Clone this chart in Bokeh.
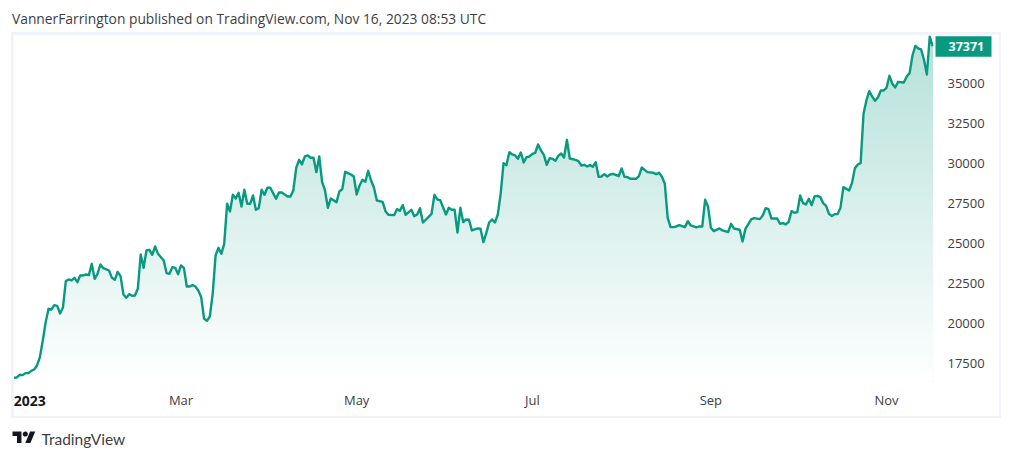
from bokeh.plotting import figure
from bokeh.embed import file_html
from bokeh.resources import INLINE
from bokeh.layouts import column
from bokeh.models import FixedTicker, Label, LinearAxis, Range1d
import numpy as np

days = [0,1,2,3,4,5,6,7,8,9,10,11,12,13,14,15,16,17,18,19,20,21,22,23,24,25,26,27,28,29,30,31,33,34,35,36,37,38,39,40,41,42,43,44,45,46,47,48,49,50,52,53,54,55,56,57,58,59,60,61,62,63,64,65,66,67,68,69,70,71,72,73,
74,75,76,77,78,79,80,81,82,83,84,85,86,87,88,89,91,92,93,95,96,97,98,99,100,101,102,103,104,105,106,107,108,109,110,112,113,
114,115,117,118,119,120,121,122,123,124,125,126,128,129,130,132,133,134,135,136,138,139,140,141,142,145,146,147,148,150,151,152,153,154,155,156,157,158,159,161,162,163,164,165,166,167,168,169,170,171,172,173,174,175,176,177,178,179,180,181,182,183,184,185,186,187,188,189,190,191,192,193,195,196,197,198,199,200,201,202,203,204,205,206,207,208,210,211,212,213,214,216,217,218,219,220,222,223,224,225,226,227,228,
229,230,231,233,234,235,237,238,239,240,241,242,243,245,246,248,249,250,252,253,254,256,257,259,260,261,262,263,265,266,267,268,269,270,271,272,273,274,275,276,277,278,279,280,281,282,283,284,285,286,287,288,289,290,291,292,293,294,295,296,297,298,299,300,301,302,303,304,305,306,307,309,310,311,312,313,314,315,316,317,318,319]
prices = [16637,16658,16825,16804,16929,16929,17073,17158,17408,17929,18970,20116,20949,20907,21178,21136,20657,21032,22678,22782,22720,22886,22615,23032,23032,23094,23053,23761,22823,23136,23719,23490,23344,22886,22761,23261,22990,21848,21636,21865,21761,21782,22199,24344,23511,24594,24636,24323,24844,24386,23969,23178,23136,23553,23511,23115,23657,23511,22344,22344,22428,22344,22094,21678,20345,20199,20470,21886,24282,24761,24386,25011,
27513,27034,28075,27846,28200,27346,28387,27513,27513,28033,27138,27242,28387,28075,28512,28512,27825,28221,28221,27971,27971,28346,29762,30262,29971,30471,30533,30387,30387,29491,30471,28867,28346,27263,27846,27617,28300,
28428,29511,29345,29220,28095,28657,29011,28886,29574,28970,28512,27720,27637,27053,26824,26803,27178,27074,27428,26824,27137,26741,26845,27241,26345,26887,28074,27782,27741,26845,27262,27137,27137,25720,27262,26366,26533,26512,25845,25970,25949,25116,25678,26345,26533,26345,26845,28137,30053,29928,30740,30595,30532,30324,30719,30095,30428,30470,30636,30699,31219,30845,30574,29949,30365,30324,30199,30511,30657,30407,31511,30345,30261,30178,29907,29949,29845,29928,29824,30115,29199,29220,29365,29220,29345,29386,29240,29720,29199,29178,29074,29074,29240,29782,29636,29490,29449,29365,29449,29199,28761,26637,26053,
26054,26096,26179,26054,26429,26158,26033,26096,26096,27762,27346,26013,25804,25971,25846,25742,26263,25971,25888,25159,25950,26534,26617,26554,26783,27242,27179,26596,26596,26263,26304,26221,26388,27054,26950,26992,28033,27554,27471,27825,27429,27971,28012,27929,27554,27388,26888,26742,26867,26867,27262,28554,28450,28346,28804,29741,29970,30054,33137,33970,34553,34220,33949,34157,34595,34595,34761,35511,35011,34782,35136,35095,35470,35678,36782,37386,37219,37157,36511,35595,37969,37371]

price_ticks = [17500,20000,22500,25000,27500,30000,32500,35000]
time_ticks = [58,119,180,242,303]
time_labels = ["Mar","May","Jul","Sep","Nov"]
year_tick = 5.5
year_label = "2023"
last_price = 37371
header = "VannerFarrington published on TradingView.com, Nov 16, 2023 08:53 UTC"
brand = "TradingView"

GREEN = "#089981"
TEXT = "#3c4043"
FONT = "Open Sans"
BASE = 16406
XMIN, XMAX, YMAX = -0.17, 319.3, 38031

def strip(fig):
    fig.grid.visible = False
    fig.outline_line_color = None

def banner(height, margin=(0, 0, 0, 0)):
    f = figure(width=1004, height=height, output_backend="svg", toolbar_location=None,
               x_range=Range1d(0, 1004), y_range=Range1d(height, 0),
               x_axis_location=None, y_axis_location=None,
               min_border_left=0, min_border_right=0, min_border_top=0, min_border_bottom=0,
               margin=margin)
    strip(f)
    return f

# header
top = banner(32)
top.add_layout(Label(x=11.5, y=18, text=header, text_color=TEXT, text_font=FONT,
                     text_font_size="13.8px", text_baseline="middle"))

# main chart
p = figure(width=986, height=382, output_backend="svg", toolbar_location=None,
           x_range=Range1d(XMIN, XMAX), y_range=Range1d(BASE, YMAX),
           y_axis_location=None, min_border_left=0, min_border_right=66,
           min_border_top=1, min_border_bottom=35, margin=(2, 2, 2, 2),
           background_fill_color="white", border_fill_color="white")
strip(p)

# vertical gradient: stacked solid layers, top colour first
xs = np.array(days, float)
ys = np.array(prices, float)
for lv in np.linspace(YMAX, BASE, 70):
    a = 0.30 * (lv - BASE) / (YMAX - BASE)
    c = [round(255 + (g - 255) * a) for g in (8, 153, 129)]
    p.varea(xs, np.full_like(ys, BASE), np.minimum(ys, lv),
            fill_color="#%02x%02x%02x" % tuple(c), fill_alpha=1)

p.line(days, prices, line_color=GREEN, line_width=2.4, line_join="round")

def style(axis, color=TEXT, size="13px"):
    axis.axis_line_color = None
    axis.minor_tick_line_color = None
    axis.major_label_text_font = FONT
    axis.major_label_text_font_size = size
    axis.major_label_text_color = color

# price axis
ya = LinearAxis(ticker=FixedTicker(ticks=price_ticks),
                major_label_overrides={t: str(t) for t in price_ticks},
                major_tick_line_color=None, major_tick_in=0, major_tick_out=0,
                major_label_standoff=14)
style(ya)
p.add_layout(ya, "right")

# last price tag: a wide tick with its label on top
tag = LinearAxis(ticker=FixedTicker(ticks=[last_price]),
                 major_label_overrides={last_price: str(last_price)},
                 major_tick_line_color=GREEN, major_tick_line_width=20.5,
                 major_tick_in=52, major_tick_out=4, major_label_standoff=-43)
style(tag, "white", "12.5px")
tag.major_label_text_font_style = "bold"
p.add_layout(tag, "right")

# time axis
xa = p.xaxis[0]
xa.ticker = FixedTicker(ticks=time_ticks)
xa.major_label_overrides = dict(zip(time_ticks, time_labels))
xa.major_tick_line_color = None
xa.major_tick_in = 0
xa.major_tick_out = 0
xa.major_label_standoff = 9
style(xa)

# year label, bold, on the same line as the months
ya2 = LinearAxis(ticker=FixedTicker(ticks=[year_tick]),
                 major_label_overrides={year_tick: year_label},
                 major_tick_line_color=None, major_tick_in=0, major_tick_out=0,
                 major_label_standoff=-16)
style(ya2, "#131722", "14px")
ya2.major_label_text_font_style = "bold"
p.add_layout(ya2, "below")

chart = column(p, margin=(0, 0, 0, 11), spacing=0, styles={"background": "#f0f3fa"})

# footer with the logo mark
bottom = banner(33)
LX, LY, LS = 12, 13, 0.64
def logo(pts):
    return [LX + LS * a for a, b in pts], [LY + LS * (b - 4) for a, b in pts]
ang = np.linspace(0, 2 * np.pi, 24)
for shape in ([(0,4),(14,4),(14,22),(7,22),(7,11),(0,11)],
              [(27.5,4),(35.5,4),(28,22),(20,22)],
              list(zip(20 + 4 * np.cos(ang), 8 + 4 * np.sin(ang)))):
    ax, ay = logo(shape)
    bottom.patch(ax, ay, fill_color="#131722", line_color=None)
bottom.add_layout(Label(x=41, y=20, text=brand, text_color=TEXT, text_font="Lato",
                        text_font_size="15.5px", text_baseline="middle"))

page = column(top, chart, bottom, spacing=0)
open("out.html", "w").write(file_html(page, INLINE))
